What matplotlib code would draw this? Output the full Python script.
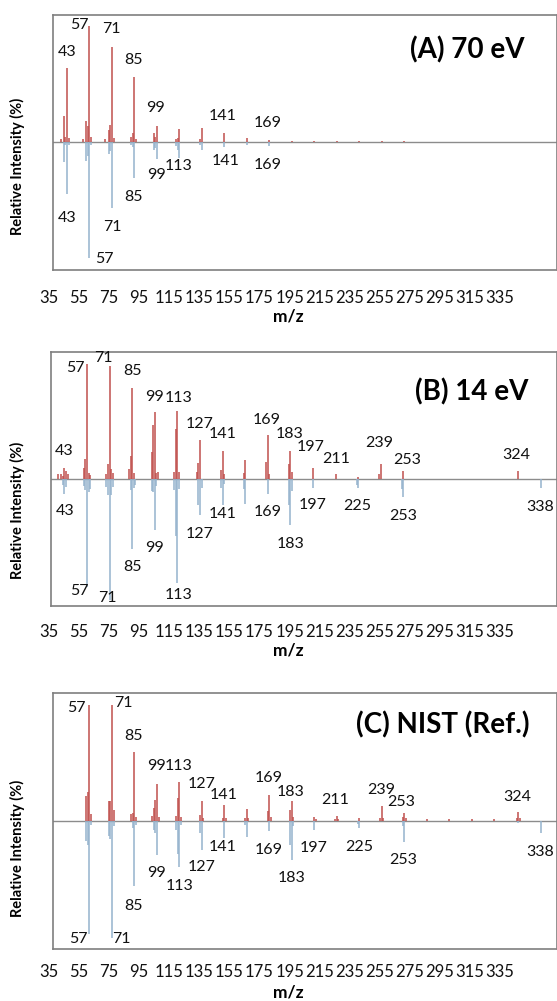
import numpy as np
import matplotlib
matplotlib.use("Agg")
import matplotlib.pyplot as plt

plt.rcParams['font.family'] = ['Lato', 'DejaVu Sans']

# ---- panel A : 70 eV ----
a_mz_up = [39, 41, 42, 43, 44, 53, 55, 56, 57, 58, 67, 69, 70, 71, 72, 83, 84, 85, 86,
           97, 98, 99, 111, 112, 113, 126, 127, 141, 155, 169, 183, 197, 211, 225, 239, 253]
a_int_up = [2, 22, 4, 63.5, 3, 2, 18, 13.6, 100, 4, 2, 10, 14.4, 81.7, 3, 4, 8, 56.3, 2,
            7.2, 4, 13.6, 2, 3, 10.7, 2, 11.6, 7.8, 3.5, 1.5, 1, 0.8, 0.8, 0.6, 0.6, 0.6]
a_mz_dn = [41, 42, 43, 44, 55, 56, 57, 58, 69, 70, 71, 83, 84, 85, 97, 98, 99,
           111, 112, 113, 126, 127, 141, 155, 169]
a_int_dn = [17.3, 3, 45.6, 3, 16.7, 12, 101, 3, 11, 8, 57.7, 3, 4.3, 31.8, 7.2, 5, 15,
            4, 7, 14.4, 3, 7.2, 4.3, 3, 3.7]

# ---- panel B : 14 eV ----
b_mz_up = [39, 41, 42, 43, 44, 45, 55, 56, 57, 58, 59, 69, 70, 71, 72, 73, 83, 84, 85, 86,
           97, 98, 99, 100, 101, 111, 112, 113, 114, 125, 126, 127, 140, 141, 142, 154, 155,
           168, 169, 170, 182, 183, 184, 197, 211, 225, 238, 239, 253, 324]
b_int_up = [4, 4.6, 3, 9.8, 6.9, 4.3, 9.5, 17, 99.3, 5.5, 3.5, 4.3, 12.7, 97.9, 8.4, 5.2,
            8.7, 19.7, 78.8, 5.2, 23.4, 46.5, 58, 5.2, 6, 6, 43.6, 58.9, 6, 6, 13.9, 34,
            7.5, 24.5, 4.6, 5.2, 16.7, 14.7, 37.8, 4.3, 12.7, 24.5, 6, 9.8, 4.3, 1.7, 4.3,
            13, 6.7, 7.2]
b_mz_dn = [42, 43, 44, 55, 56, 57, 58, 59, 69, 70, 71, 72, 73, 84, 85, 86, 87, 97, 98, 99,
           100, 111, 112, 113, 114, 126, 127, 128, 140, 141, 142, 154, 155, 169, 182, 183,
           184, 197, 224, 225, 252, 253, 338]
b_int_dn = [5.2, 12.7, 7, 6.3, 9.8, 93.5, 11.3, 8.7, 7, 14.1, 105, 14.1, 7, 9.8, 60.4, 7.8,
            5, 10.7, 11.3, 43.9, 6, 9.8, 49.4, 89.8, 8.7, 22.3, 31.4, 8, 8, 22.3, 4, 8.7,
            21.4, 12.7, 22.8, 40.1, 10.4, 7.8, 5, 7.8, 8.7, 15.8, 7.8]

# ---- panel C : NIST reference ----
c_mz_up = [55, 56, 57, 58, 69, 70, 71, 72, 83, 84, 85, 86, 96, 97, 98, 99, 100, 111, 112,
           113, 114, 126, 127, 128, 140, 141, 142, 154, 155, 156, 168, 169, 170, 182, 183,
           184, 197, 198, 210, 211, 212, 225, 238, 239, 240, 252, 253, 254, 267, 281, 295,
           309, 323, 324, 325]
c_int_up = [21.7, 24.5, 100, 6, 17.3, 17.3, 100, 9.5, 6, 6.7, 59.2, 3, 4, 11, 18.2, 32, 3,
            3.7, 19.7, 33.2, 3, 5, 17.3, 2, 2, 13.6, 2, 2, 10.4, 2, 8.1, 22.3, 3, 9.5,
            17.3, 3, 2.9, 1.5, 1.5, 4.3, 1.5, 2.6, 2, 12.7, 2, 3, 6.9, 2, 1.2, 1.2, 1.5,
            1.5, 2, 7.5, 2]
c_mz_dn = [55, 56, 57, 58, 69, 70, 71, 72, 84, 85, 86, 97, 98, 99, 111, 112, 113, 114, 126,
           127, 141, 154, 155, 169, 182, 183, 184, 197, 224, 225, 252, 253, 324, 338]
c_int_dn = [17.9, 20.8, 97.9, 4, 13.6, 15.8, 101.6, 5, 6.3, 56.9, 4, 7.8, 10.7, 30, 7.8,
            28.8, 40.1, 4, 10.7, 25.1, 15, 4, 14.5, 9.3, 20.8, 34.4, 5, 7.8, 3, 6.1, 4.6,
            18.4, 2.3, 11]

# peak labels: (m/z, x position, y position)
a_lab = [(43, 42.9, 77.9), (57, 50.6, 101), (71, 70.6, 97.3), (85, 84.3, 70.8),
         (99, 98, 29.2), (141, 140, 22.5), (169, 167.9, 15.9),
         (43, 43.3, -66.3), (57, 66.1, -101.8), (71, 71, -73.6), (85, 84.7, -47.6),
         (99, 98.5, -28.8), (113, 112.6, -20.8), (141, 142.1, -16.5), (169, 168, -20.2)]
b_lab = [(43, 43.1, 24.5), (57, 49.7, 95.9), (71, 67.3, 105), (85, 84.9, 93.5),
         (99, 98.5, 71.3), (113, 113.4, 69.9), (127, 126.7, 47.4), (141, 140.8, 39),
         (169, 168.5, 51.1), (183, 182.5, 39.2), (197, 195.8, 27.5), (211, 211.2, 17.5),
         (239, 238.2, 30.9), (253, 255.3, 16.5), (324, 322.7, 20.8),
         (43, 43.5, -27.7), (57, 52.2, -96.7), (71, 69.4, -103.3), (85, 85.3, -75.9),
         (99, 98.9, -59.5), (113, 113.4, -100.5), (127, 126.9, -47.9), (141, 141.1, -30.6),
         (169, 168.7, -28.3), (183, 183, -56), (197, 196.7, -22.8), (225, 224.5, -23.1),
         (253, 252.7, -32), (338, 337.4, -24)]
c_lab = [(57, 48.8, 97.9), (71, 78.4, 102.2), (85, 84.2, 73.4), (99, 98.5, 47.4),
         (113, 112.5, 47.4), (127, 126.6, 31.8), (141, 140.5, 22.3), (169, 168.5, 36.7),
         (183, 182.3, 24.9), (211, 210.2, 18.2), (239, 238.5, 26.6), (253, 251.3, 16.5),
         (324, 323.2, 20.8),
         (57, 50.2, -102.7), (71, 77.1, -102.7), (85, 84.4, -73.9), (99, 98.5, -45),
         (113, 112.9, -56.5), (127, 126.6, -39.8), (141, 139.9, -23), (169, 168.7, -25.4),
         (183, 183, -49.6), (197, 196.7, -23.6), (225, 224.7, -22.5), (253, 252.5, -34),
         (338, 337.8, -26.8)]

titles = ["(A) 70 eV", "(B) 14 eV", "(C) NIST (Ref.)"]
tick_labels = [str(v) for v in range(35, 336, 20)]

RED = '#C0504D'
BLUE = '#95B3CD'
GRAY = '#8C8C8C'
W, H = 557, 1001

fig = plt.figure(figsize=(W / 100, H / 100), dpi=100)

# pixel boxes: left, top, right, bottom
boxes = [(53.3, 15, 556.5, 270), (50.7, 352, 556.5, 606), (53.3, 693, 556.5, 949)]
ylims = [(-111, 109.7), (-110, 110), (-111.1, 110.6)]
title_pos = [(525, 50), (528, 392), (530, 725)]
tick_y = [298, 632, 972]
mz_y = [316, 650, 993]
ylab_y = [166, 510, 848]

panels = [(a_mz_up, a_int_up, a_mz_dn, a_int_dn, a_lab),
          (b_mz_up, b_int_up, b_mz_dn, b_int_dn, b_lab),
          (c_mz_up, c_int_up, c_mz_dn, c_int_dn, c_lab)]

for k, (mz_up, int_up, mz_dn, int_dn, labs) in enumerate(panels):
    l, t, r, b = boxes[k]
    ax = fig.add_axes([l / W, 1 - b / H, (r - l) / W, (b - t) / H])
    ax.axhline(0, color=GRAY, lw=1.0, zorder=1)
    ax.vlines(mz_up, 0, int_up, color=RED, lw=1.1, zorder=2)
    ax.vlines(mz_dn, 0, -np.array(int_dn), color=BLUE, lw=1.1, zorder=2)
    ax.set_xlim(34.5, 347.8)
    ax.set_ylim(*ylims[k])
    ax.set_xticks([])
    ax.set_yticks([])
    for s in ax.spines.values():
        s.set_color('#7F7F7F')
        s.set_linewidth(1.2)
    for mz, x, y in labs:
        ax.text(x, y, str(mz), ha='center', va='center', fontsize=11.5, color='#111111')

    tx, ty = title_pos[k]
    fig.text(tx / W, 1 - ty / H, titles[k], ha='right', va='center',
             fontsize=20, fontweight='bold', color='black')
    for i, lab in enumerate(tick_labels):
        fig.text((49 + 30.07 * i) / W, 1 - tick_y[k] / H, lab, ha='center', va='center',
                 fontsize=12, color='#111111')
    fig.text(288 / W, 1 - mz_y[k] / H, 'm/z', ha='center', va='center',
             fontsize=12.5, fontweight='bold')
    fig.text(17 / W, 1 - ylab_y[k] / H, 'Relative Intensity (%)', ha='center', va='center',
             rotation=90, fontsize=10.5, fontweight='bold')

fig.savefig('out.png', dpi=100)
